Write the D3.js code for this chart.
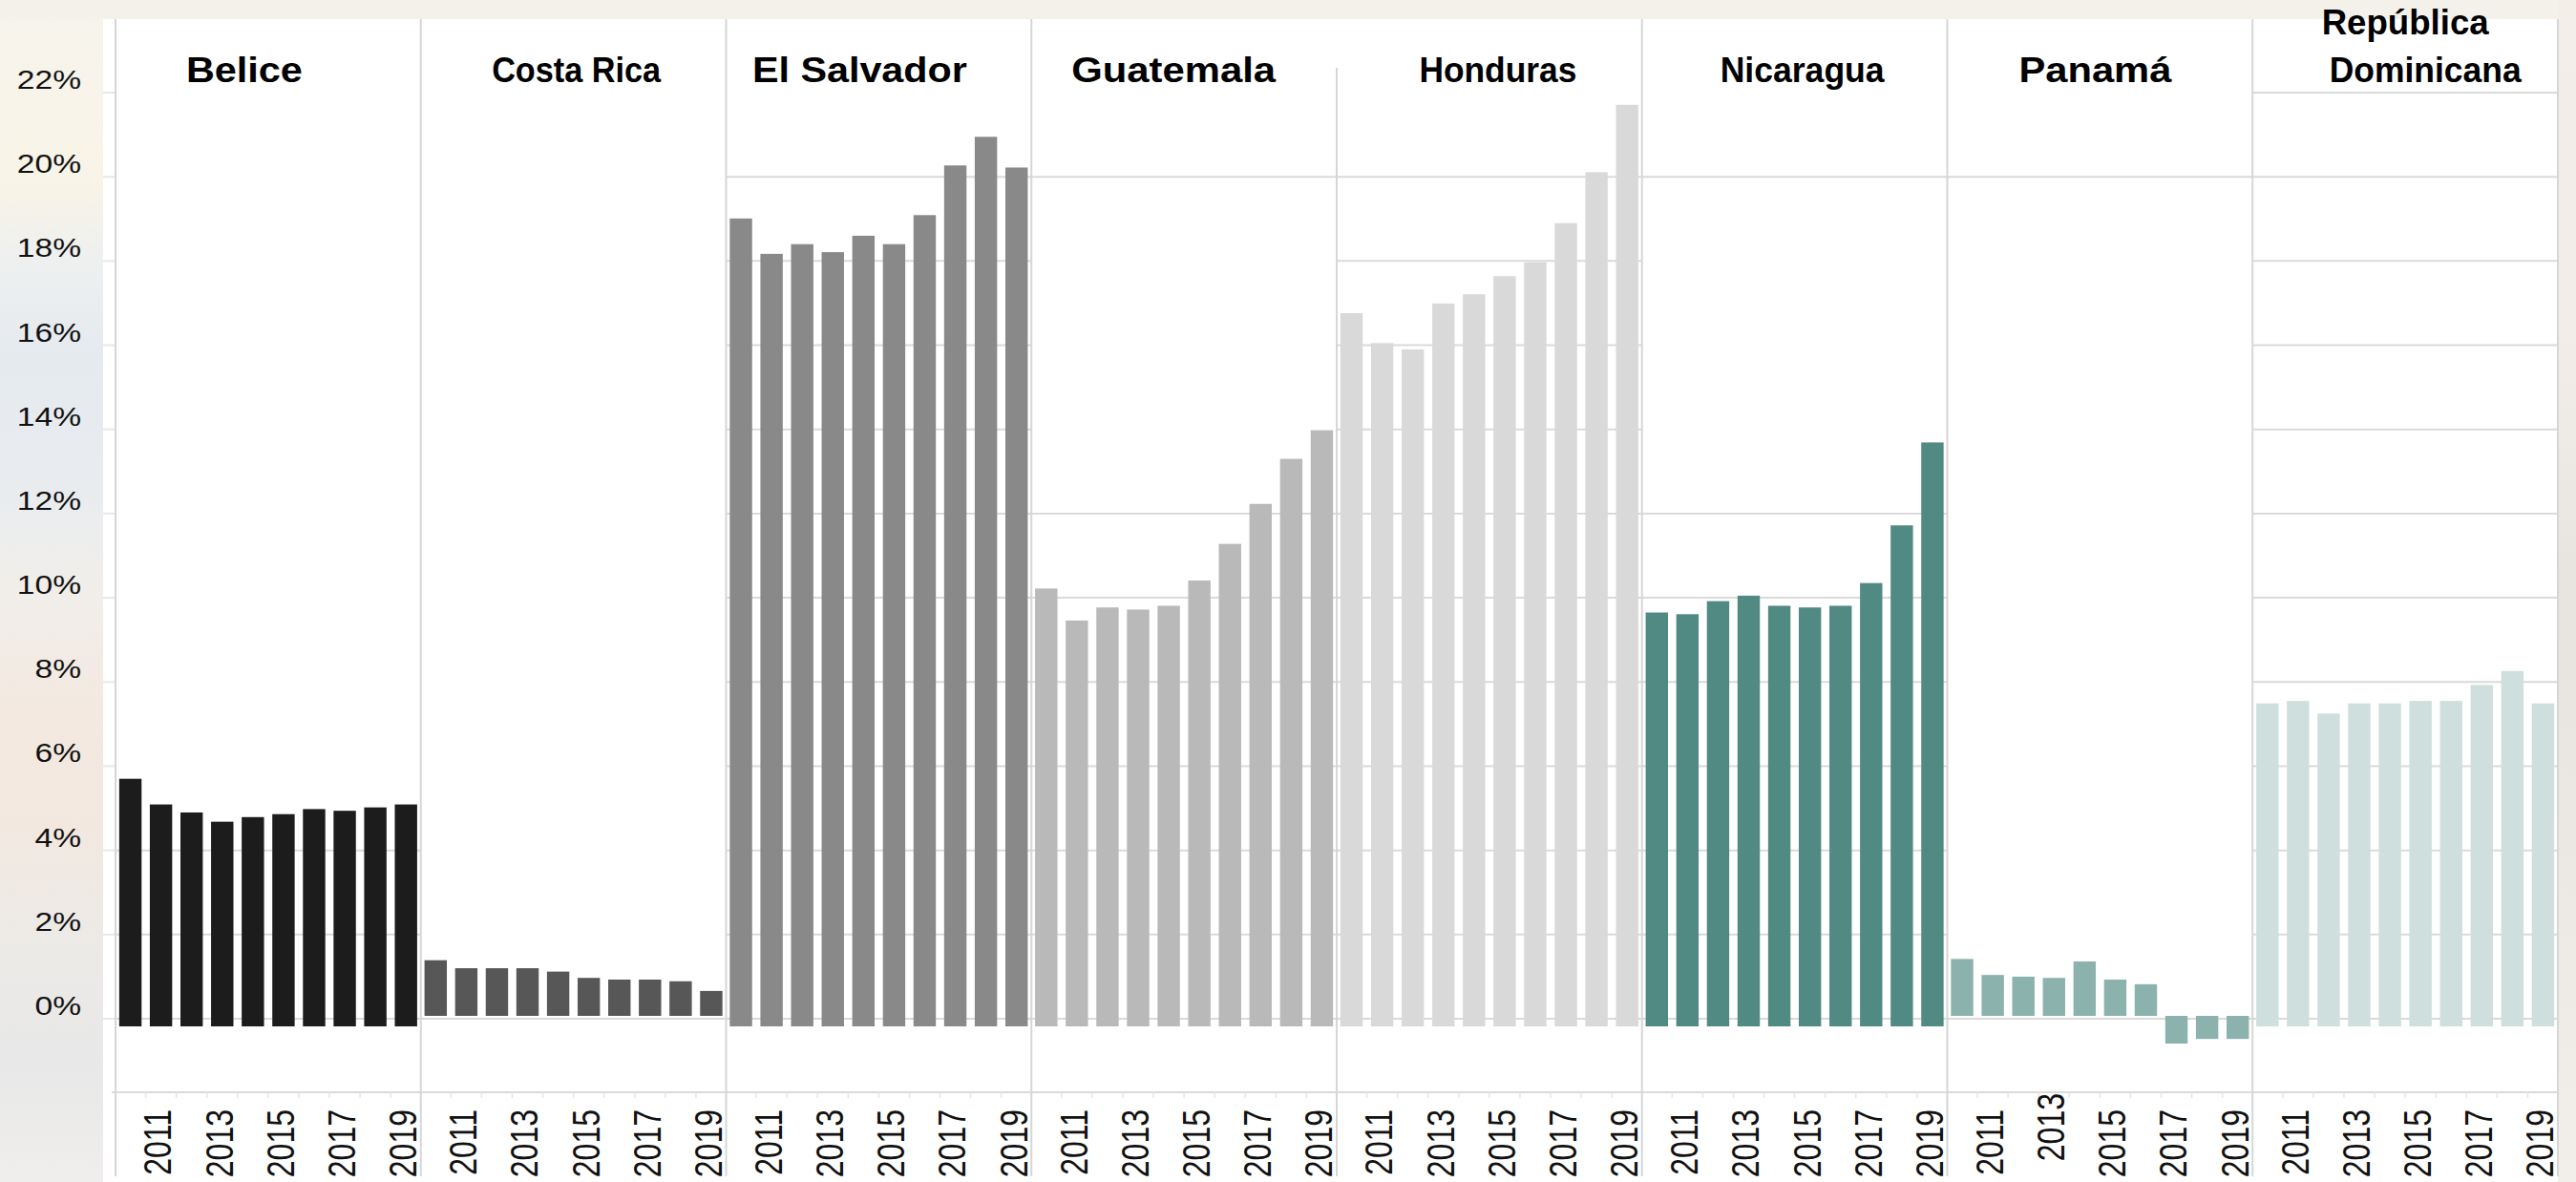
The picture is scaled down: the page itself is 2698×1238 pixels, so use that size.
<!DOCTYPE html>
<html><head><meta charset="utf-8">
<script src="https://cdn.jsdelivr.net/npm/d3@7"></script>
<style>html,body{margin:0;padding:0;background:#f5f2ed;overflow:hidden}</style>
</head><body><svg id="chart" width="2698" height="1238"></svg>
<script>
// ---------------- DATA ----------------
const countries = ["Belice", "Costa Rica", "El Salvador", "Guatemala", "Honduras", "Nicaragua", "Panamá", "República Dominicana"];
const years = ["2010", "2011", "2012", "2013", "2014", "2015", "2016", "2017", "2018", "2019"];
const yearLabels = ["2011", "2013", "2015", "2017", "2019"];
const yTickValues = [0, 2, 4, 6, 8, 10, 12, 14, 16, 18, 20, 22];

const belice        = [5.70, 5.09, 4.90, 4.68, 4.79, 4.86, 4.98, 4.94, 5.02, 5.09];
const costaRica     = [1.39, 1.20, 1.20, 1.20, 1.12, 0.97, 0.93, 0.93, 0.89, 0.66];
const elSalvador    = [19.01, 18.17, 18.40, 18.21, 18.60, 18.40, 19.09, 20.27, 20.95, 20.22];
const guatemala     = [10.22, 9.46, 9.77, 9.72, 9.81, 10.41, 11.28, 12.23, 13.30, 13.98];
const honduras      = [16.76, 16.05, 15.90, 16.99, 17.21, 17.64, 17.97, 18.90, 20.11, 21.71];
const nicaragua     = [9.65, 9.61, 9.92, 10.05, 9.81, 9.77, 9.81, 10.35, 11.72, 13.69];
const panama        = [1.42, 1.04, 1.00, 0.97, 1.36, 0.93, 0.82, -0.59, -0.48, -0.48];
const repDominicana = [7.49, 7.55, 7.25, 7.49, 7.49, 7.55, 7.55, 7.93, 8.26, 7.49];

const series = [belice, costaRica, elSalvador, guatemala, honduras, nicaragua, panama, repDominicana];

// ---------------- STYLE ----------------
const panelStyle = [
  {color: "#1c1c1c", grid: [0, 2, 4], base: 8, title: ["Belice"], tw: [122], tdx: -25},
  {color: "#575757", grid: [0], base: -3, title: ["Costa Rica"], tw: [177], tdx: 3},
  {color: "#898989", grid: [0, 2, 4, 6, 8, 10, 12, 14, 16, 18, 20], base: 8, title: ["El Salvador"], tw: [225], tdx: -20},
  {color: "#b9b9b9", grid: [0, 2, 4, 6, 8, 10, 12, 20], base: 8, title: ["Guatemala"], tw: [214], tdx: -11},
  {color: "#d9d9d9", grid: [0, 2, 4, 6, 8, 10, 12, 14, 16, 18, 20], base: 8, title: ["Honduras"], tw: [165], tdx: 9, sepTop: 71},
  {color: "#518a83", grid: [0, 2, 4, 6, 8, 10, 12, 20], base: 8, title: ["Nicaragua"], tw: [172], tdx: 8},
  {color: "#8cb2ad", grid: [0, 20], base: -3, title: ["Panamá"], tw: [160], tdx: -5, labelShift: {"2013": -17}},
  {color: "#cfdfdd", grid: [0, 2, 4, 6, 8, 10, 12, 14, 16, 18, 20, 22], base: 8, title: ["República", "Dominicana"], tw: [175, 201], tdx: [0, 21]}
];

const W = 2698, H = 1238;
const plotLeft = 108, plotTop = 20;
const svg = d3.select("#chart");

// background
const defs = svg.append("defs");
const g1 = defs.append("linearGradient").attr("id", "bgV").attr("x1", 0).attr("y1", 0).attr("x2", 0).attr("y2", 1);
[[0, "#f6f3ec"], [0.1, "#f8f4e9"], [0.16, "#f7f3e6"], [0.22, "#eef0f0"], [0.3, "#e5eaef"], [0.42, "#e9ecef"], [0.5, "#f1eeea"],
 [0.6, "#f3e9e0"], [0.7, "#f2e8e0"], [0.8, "#eceae7"], [0.9, "#e8e8e8"], [1, "#efeeec"]]
  .forEach(([o, c]) => g1.append("stop").attr("offset", o).attr("stop-color", c));
const g2 = defs.append("linearGradient").attr("id", "bgR").attr("x1", 0).attr("y1", 0).attr("x2", 0).attr("y2", 1);
[[0, "#f3efe8"], [0.3, "#f1ede6"], [0.5, "#e7e4e0"], [0.7, "#ebe7e2"], [1, "#f2efea"]]
  .forEach(([o, c]) => g2.append("stop").attr("offset", o).attr("stop-color", c));

svg.append("rect").attr("x", 0).attr("y", 0).attr("width", W).attr("height", H).attr("fill", "url(#bgV)");
svg.append("rect").attr("x", 0).attr("y", 0).attr("width", W).attr("height", plotTop).attr("fill", "#f4f1ea");
svg.append("rect").attr("x", 2679).attr("y", 0).attr("width", W - 2679).attr("height", H).attr("fill", "url(#bgR)");

// scales
const x = d3.scaleBand().domain(countries).range([121, 2679]);
const y = d3.scaleLinear().domain([0, 22]).range([1067, 97]);
const inner = d3.scaleBand().domain(years).range([0, x.bandwidth()]).paddingInner(0.27).paddingOuter(0.12);

// white plot area
svg.append("rect").attr("x", plotLeft).attr("y", plotTop).attr("width", 2679 - plotLeft).attr("height", H - plotTop).attr("fill", "#ffffff");

const gridColor = "#dadada";

// left tick stubs
svg.append("g").selectAll("line").data(yTickValues).join("line")
  .attr("x1", plotLeft).attr("x2", 121)
  .attr("y1", d => y(d)).attr("y2", d => y(d))
  .attr("stroke", "#e8e8e8").attr("stroke-width", 2);

// per-panel gridlines
countries.forEach((c, i) => {
  const st = panelStyle[i];
  svg.append("g").selectAll("line").data(st.grid).join("line")
    .attr("x1", x(c)).attr("x2", x(c) + x.bandwidth())
    .attr("y1", d => y(d)).attr("y2", d => y(d))
    .attr("stroke", gridColor).attr("stroke-width", 2);
});

// bottom axis line
const axisY = 1144;
svg.append("line").attr("x1", 117).attr("x2", 2679).attr("y1", axisY).attr("y2", axisY)
  .attr("stroke", gridColor).attr("stroke-width", 2);

// separators
countries.forEach((c, i) => {
  const st = panelStyle[i];
  svg.append("line").attr("x1", x(c)).attr("x2", x(c))
    .attr("y1", st.sepTop || plotTop).attr("y2", 1232)
    .attr("stroke", "#d6d6d6").attr("stroke-width", 2);
});
svg.append("line").attr("x1", 2679).attr("x2", 2679).attr("y1", plotTop).attr("y2", 1232)
  .attr("stroke", "#d6d6d6").attr("stroke-width", 2);

// small ticks between bars on the axis
countries.forEach(c => {
  svg.append("g").selectAll("line").data(years.slice(1)).join("line")
    .attr("x1", d => x(c) + inner(d) - inner.step() * 0.135)
    .attr("x2", d => x(c) + inner(d) - inner.step() * 0.135)
    .attr("y1", axisY).attr("y2", axisY + 6)
    .attr("stroke", "#e6e6e6").attr("stroke-width", 1.5);
});

// bars
countries.forEach((c, i) => {
  const st = panelStyle[i];
  const base = y(0) + st.base;
  svg.append("g").selectAll("rect").data(series[i].map((v, k) => ({year: years[k], v})))
    .join("rect")
    .attr("x", d => x(c) + inner(d.year))
    .attr("width", inner.bandwidth())
    .attr("y", d => Math.min(y(d.v), base))
    .attr("height", d => Math.abs(base - y(d.v)))
    .attr("fill", st.color);
});

// titles
countries.forEach((c, i) => {
  const st = panelStyle[i];
  const cx = x(c) + x.bandwidth() / 2;
  const lines = st.title;
  const baselines = lines.length === 1 ? [86] : [36, 86];
  lines.forEach((t, j) => {
    const dx = Array.isArray(st.tdx) ? st.tdx[j] : st.tdx;
    svg.append("text")
      .attr("x", cx + dx).attr("y", baselines[j])
      .attr("text-anchor", "middle")
      .attr("font-family", "'Liberation Sans', Arial, sans-serif")
      .attr("font-weight", "bold").attr("font-size", 36)
      .attr("textLength", st.tw[j]).attr("lengthAdjust", "spacingAndGlyphs")
      .attr("fill", "#000")
      .text(t);
  });
});

// y-axis labels
svg.append("g").selectAll("text").data(yTickValues).join("text")
  .attr("transform", d => `translate(85,${y(d) - 4}) scale(1.2,1)`)
  .attr("text-anchor", "end")
  .attr("font-family", "'Liberation Sans', Arial, sans-serif")
  .attr("font-size", 28).attr("fill", "#111")
  .text(d => d + "%");

// year labels
countries.forEach((c, i) => {
  const st = panelStyle[i];
  svg.append("g").selectAll("text").data(yearLabels).join("text")
    .attr("transform", d => {
      const cx = x(c) + inner(d) + inner.bandwidth() / 2 - 4;
      const top = 1162 + ((st.labelShift && st.labelShift[d]) || 0);
      return `translate(${cx},${top}) scale(1.29,1) rotate(-90)`;
    })
    .attr("text-anchor", "end")
    .attr("dy", "0.36em")
    .attr("font-family", "'Liberation Sans', Arial, sans-serif")
    .attr("font-size", 32).attr("fill", "#111")
    .text(d => d);
});
</script>
</body></html>
